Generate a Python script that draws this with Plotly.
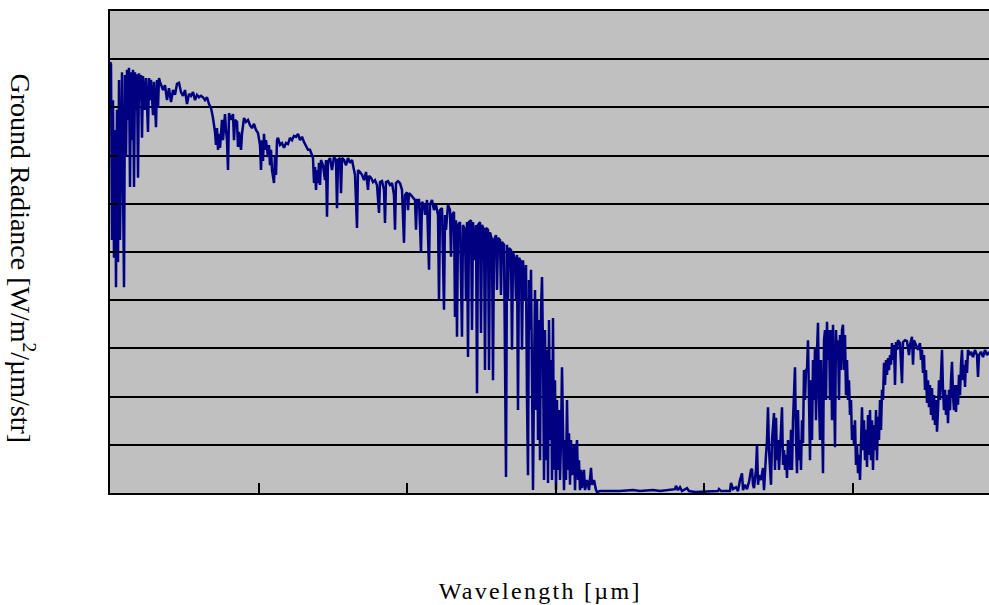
import plotly.graph_objects as go

# ---- data (wavelength axis in arbitrary nm-like units, radiance in gridline units x10) ----
wl_a = [400,401,402,403,404,405,406,407,408,409,410,411,412,414,415,416,417,418,419,420,421,422,423,424,425,426,427,428,429,430,431,432,433,435,436,438,439,440,441,443,444,446,447,448,449]
rad_a = [89.4,89.0,52.5,81.5,48.8,75.3,42.7,79.5,47.9,85.7,52.5,69.1,87.3,42.7,86.7,69.7,87.8,77.4,88.2,63.5,87.3,73.2,87.8,63.5,87.3,79.5,86.9,65.4,87.1,81.5,86.7,73.7,86.5,79.5,86.1,74.9,86.1,81.5,85.7,78.4,85.3,75.9,85.7,79.9,86.1]

wl_b = [450,453,455,457,459,461,463,465,467,469,471,473,475,477,479,481,483,485,487,489,491,493,495,497,499,501]
rad_b = [85.3,83.6,84.6,81.5,84.0,81.1,83.6,82.6,84.9,85.1,83.2,82.4,83.6,80.7,82.8,82.4,83.2,81.5,82.6,82.1,82.4,82.1,81.5,82.1,80.7,79.9]

wl_c = [503,505,506,507,508,509,510,512,513,515,516,517,518,519,521,523,524,525,527,528,529,531,532,534,536,538,540,542,544,546]
rad_c = [77.8,74.9,72.2,75.7,71.2,74.5,71.6,77.4,73.2,78.6,75.3,73.2,67.0,78.8,77.4,78.6,73.2,77.4,77.0,71.8,74.9,71.2,74.5,77.8,77.0,77.4,76.3,75.7,76.6,75.3]

wl_d = [548,550,551,552,553,554,555,556,558,559,560,561,562,564,565,566,567,568,570,572,574,576,578,580,582,584,586,588,590,592,594,596,598,600,602]
rad_d = [74.7,72.2,67.0,73.2,68.9,74.5,71.2,73.2,69.7,72.2,68.0,71.2,67.0,64.3,70.1,66.0,73.2,73.7,72.2,72.6,71.6,72.6,72.4,73.7,73.2,74.1,73.9,74.5,73.2,73.9,72.8,72.0,71.2,71.2,70.1]

wl_e = [603,604,605,606,607,608,609,610,611,613,615,616,617,618,620,622,624,626,627,628,630,631,632,634,636,638,640,642,644,645,647,648,650]
rad_e = [69.5,64.3,67.6,62.9,67.0,64.3,68.5,63.9,69.1,68.0,64.9,69.1,57.3,68.7,69.5,67.0,69.7,69.1,59.1,69.1,69.5,62.2,69.5,69.1,68.0,69.5,68.5,69.1,67.4,66.0,55.0,67.0,66.6]

wl_f = [652,654,656,658,659,661,663,665,667,669,670,672,674,675,676,678,680,682,684,685,686,688,690,692,694,695,697,698,699]
rad_f = [66.0,64.9,66.6,62.9,65.8,65.4,64.5,64.9,63.9,58.1,64.5,64.7,62.9,56.0,64.5,64.7,63.9,64.3,61.8,54.6,64.3,64.7,64.3,62.9,51.9,61.8,62.4,58.7,62.2]

wl_g = [701,703,705,706,707,709,711,712,714,715,717,719,720,722,724,726,728,729,730,732,734,735,736,738,740,741,742,744,745,746,747,748]
rad_g = [61.8,61.2,60.8,54.6,60.8,60.8,49.8,60.4,59.8,57.7,60.8,46.3,59.8,60.8,58.7,59.8,57.7,40.0,58.7,59.1,38.0,57.7,54.6,59.8,58.7,49.0,57.7,58.3,36.5,56.6,32.4,55.6]

wl_h = [750,752,753,755,756,757,758,759,761,762,763,765,766,767,768,770,771,772,774,775,776,778,779,780]
rad_h = [56.2,32.4,55.6,54.6,40.0,56.2,28.2,56.2,56.6,33.8,56.2,48.3,55.6,20.7,55.6,56.2,33.2,55.6,54.6,25.5,55.0,54.6,25.5,54.1]

wl_i = [782,783,784,786,787,788,790,791,792,794,796,797,798,799,801,802,803,805,806,807,808,809,811,812,813,
        815,816,817,818,819,820,821,822,823,824,825,826,827,828,829,830,831,832,833,834]
rad_i = [52.5,23.4,52.5,53.5,42.1,52.9,52.5,41.1,52.1,51.5,3.3,51.5,40.0,50.8,50.4,29.7,50.0,48.3,40.0,49.4,17.2,48.8,47.9,29.7,48.3,
         40.0,47.3,19.3,3.7,44.2,33.8,46.3,15.1,0.6,23.4,42.1,17.2,40.0,11.0,35.9,6.8,38.0,44.8,29.7,2.7]

wl_j = [835,836,837,838,839,840,841,842,843,844,845,846,847,848,849,850,851,852,853,854,855,856,857,858,859,860,861,862,
        864,865,866,867,868,869,870,871,872,
        874,875,877,879,880,881,882,884,886,887]
rad_j = [33.8,6.8,29.7,2.1,35.9,11.0,27.6,2.7,36.3,4.8,23.4,0.6,19.3,4.8,17.2,2.7,11.0,26.1,6.8,0.6,11.0,2.7,19.3,4.8,12.4,1.7,11.0,3.7,
         10.0,0.6,7.9,11.0,2.7,6.8,0.6,4.8,1.0,
         4.8,0.6,2.7,0.6,3.1,5.2,1.7,2.7,0.6,0.2]

wl_k = [890,910,923,930,943,950,965,966,968,970,972,977,979,985,1008,1009,1011,1020]
rad_k = [0.4,0.4,0.6,0.4,0.6,0.4,0.8,1.5,0.6,1.2,0.4,1.0,0.4,0.2,0.4,0.8,0.4,0.4]

wl_l = [1021,1023,1026,1028,1030,1032,1033,1035,1037,1039,1041,1042,1043,1044,1046,1047,1048,1049,1051,
        1053,1054,1055,1056,1057,1058,1059,1060,1061,1062,1063,1064,1065,1066,1067,1068,1069,1070,1071,1072,
        1073,1074,1075,1076,1077,1078,1079,1080]
rad_l = [2.1,0.8,1.2,0.4,2.7,4.1,0.6,1.7,0.8,2.3,4.8,5.0,1.7,1.0,4.8,10.0,1.7,3.7,2.7,
         5.2,0.6,6.4,7.9,11.0,17.8,8.9,4.8,1.7,11.0,15.1,16.6,4.8,15.6,6.8,11.0,4.8,7.9,13.1,17.8,
         5.8,8.9,4.8,7.9,3.1,11.0,6.8,4.8]

wl_m = [1081,1082,1083,1084,1085,1086,1087,1088,1089,1090,1091,1092,1093,1094,1095,1096,1097,1098,1099,1100,
        1101,1102,1103,1104,1105,1106,1107,1108,1109,1110,1111,1112,1113,1114,1115,1116,1117,1118,1119,1120,
        1121,1122,1123,1124,1125,1126,1127,1128,1129,1130,1131,1132,1133,1134,1135,1136,1137,1138,1139,1140,
        1141,1142,1143,1144,1145,1146,1147,1148,1149,1150]
rad_m = [13.1,4.8,15.1,19.3,26.1,11.0,4.1,17.2,6.8,11.0,4.8,15.1,10.4,25.5,19.3,25.5,25.5,31.7,15.1,6.8,
         23.4,11.0,27.6,19.3,30.3,15.1,29.5,35.3,19.3,11.0,27.6,15.1,4.1,31.7,33.8,19.3,35.5,27.6,33.8,19.3,
         33.8,15.1,34.9,23.4,9.5,33.8,27.6,31.7,19.3,32.8,25.5,33.8,34.9,25.5,32.8,20.3,27.6,19.3,23.4,16.2,
         19.3,11.0,14.1,10.0,15.1,5.8,10.0,4.1,7.9,2.7]

wl_n = [1151,1152,1153,1154,1155,1156,1157,1158,1159,1160,1161,1162,1163,1164,1165,1166,1167,1168,1169,1170,
        1171,1172,1173,1174,1175,1176,1177,1178,1179,1180,1181,1182,1183,1184,1185,1186,1187,1188]
rad_n = [11.0,17.8,8.9,15.1,6.8,13.1,5.4,16.2,7.9,17.2,6.8,15.1,4.8,14.1,8.9,17.2,6.8,15.8,11.0,19.3,
         13.1,21.4,19.3,27.0,22.4,27.6,24.5,28.0,25.5,28.6,26.6,31.1,27.6,30.7,22.4,31.3,29.7,31.7]

wl_o = [1190,1192,1193,1195,1197,1199,1200,1202,1203,1204,1206,1208,
        1210,1211,1212,1213,1214,1215,1216,1217,1218,1219,1220,1221,1222,1223,1224,1225,1226,1227,1228,1229,
        1230,1231,1232,1233,1234,1235,1236,1237,1238,1239,1240,1241,1242,1243,1244,1245,1246,1247,1248,1249,
        1250,1251,1252,1253,1254,1255,1256,1257,1258,
        1260,1261,1263,1265,1267,1268,1269,1271,1273,1275,1277,1279]
rad_o = [31.1,22.8,31.3,31.7,31.5,28.6,30.7,32.4,26.6,31.7,30.7,29.7,
         31.1,27.6,29.7,24.9,28.6,21.4,25.5,18.7,23.4,17.8,22.4,16.2,21.8,15.1,20.3,14.1,19.3,12.7,17.2,23.4,
         19.3,27.6,29.7,21.4,17.2,21.4,16.2,20.3,14.5,21.4,17.2,23.4,27.2,20.3,17.2,22.4,16.8,22.4,18.3,24.5,
         20.3,26.6,29.7,23.4,26.6,22.0,27.6,24.9,29.7,
         28.6,29.3,28.2,29.7,28.6,24.1,28.6,29.3,28.2,29.7,28.6,29.3]

wavelength = (wl_a + wl_b + wl_c + wl_d + wl_e + wl_f + wl_g + wl_h + wl_i + wl_j
              + wl_k + wl_l + wl_m + wl_n + wl_o)
radiance = (rad_a + rad_b + rad_c + rad_d + rad_e + rad_f + rad_g + rad_h + rad_i + rad_j
            + rad_k + rad_l + rad_m + rad_n + rad_o)

x_title = "Wavelength [µm]"
y_title = "Ground Radiance [W/m<sup>2</sup>/µm/str]"

fig = go.Figure(go.Scatter(
    x=wavelength, y=radiance, mode="lines",
    line=dict(color="#000080", width=2.5),
    hoverinfo="skip", showlegend=False,
))

fig.update_layout(
    width=989, height=605,
    margin=dict(l=110, r=0, t=11, b=112, pad=0),
    paper_bgcolor="white", plot_bgcolor="#C0C0C0",
    xaxis=dict(range=[400, 1279], tick0=400, dtick=148.5, ticks="inside", ticklen=10,
               tickwidth=2, tickcolor="black", showticklabels=False, showgrid=False,
               zeroline=False, showline=True, linecolor="black", linewidth=2, mirror=True),
    yaxis=dict(range=[0, 100], dtick=10, ticks="inside", ticklen=8, tickwidth=2,
               tickcolor="black", showticklabels=False, showgrid=True, gridcolor="black",
               gridwidth=2, zeroline=False, showline=True, linecolor="black", linewidth=2),
    font=dict(family="Liberation Serif, Times New Roman, serif", color="black"),
    annotations=[
        dict(text=x_title, xref="paper", yref="paper", x=0.4903, y=-0.2033,
             xanchor="center", yanchor="middle", showarrow=False,
             font=dict(size=24, family="Liberation Serif", color="black")),
        dict(text=y_title, xref="paper", yref="paper", x=-0.0995, y=0.4875,
             xanchor="center", yanchor="middle", showarrow=False, textangle=90,
             font=dict(size=28, family="Liberation Serif", color="black")),
    ],
)

post = """
document.querySelectorAll('.annotation-text').forEach(function(t){
  if (t.textContent.indexOf('Wavelength') === 0) { t.setAttribute('letter-spacing', '2.3px'); }
});
"""
fig.write_html("out.html", post_script=post)
